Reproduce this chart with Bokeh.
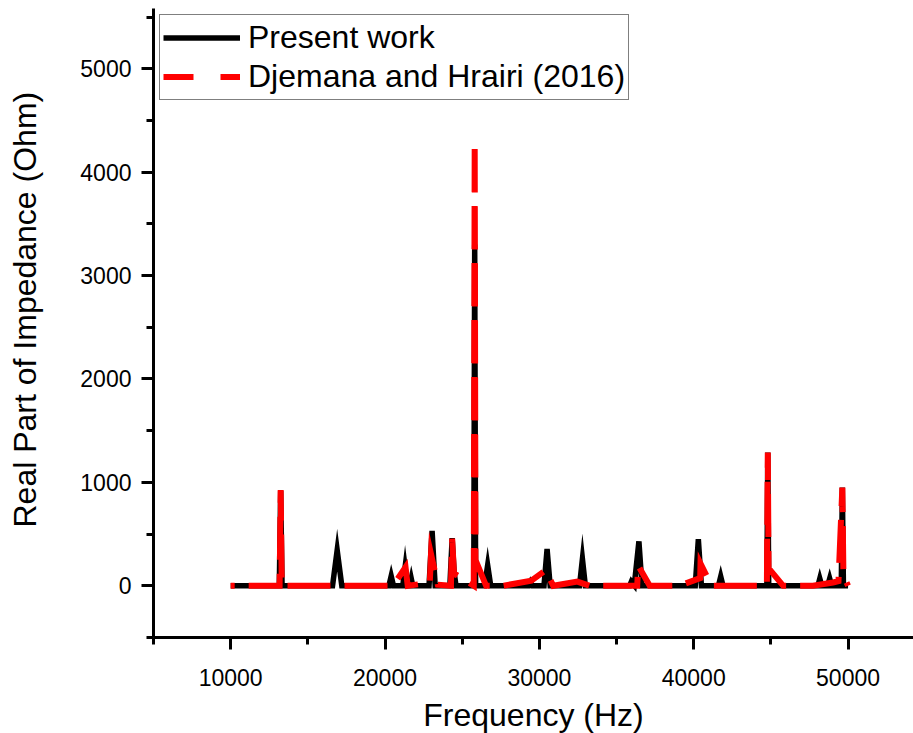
import math
from bokeh.plotting import figure
from bokeh.models import FixedTicker, Legend, LegendItem, Range1d, NumeralTickFormatter
from bokeh.embed import file_html
from bokeh.resources import INLINE

# Present work (Hz, Ohm)
freq_present = [10000, 13150, 13240, 13330, 16600, 16900, 17200, 20250, 20400, 20550,
                21150, 21300, 21450, 21600, 21700, 21800, 22850, 23050, 23250, 24200,
                24350, 24480, 24600, 25750, 25810, 25870, 26450, 26650, 26850, 29300,
                29420, 29550, 30300, 30500, 30700, 32600, 32790, 32980, 35850, 35960,
                36150, 36450, 36650, 40100, 40300, 40500, 41600, 41750, 41900, 44740,
                44800, 44860, 48050, 48170, 48300, 48680, 48810, 48940, 49560, 49630,
                49700, 50000]
z_present = [0, 0, 920, 0, 0, 345, 0, 0, 95, 0,
             0, 180, 0, 0, 70, 0, 0, 530, 0, 0,
             460, 130, 0, 0, 3300, 0, 0, 200, 0, 0,
             35, 0, 0, 355, 0, 0, 260, 0, 0, 40,
             5, 430, 0, 0, 450, 0, 0, 90, 0, 0,
             1290, 0, 0, 70, 0, 0, 70, 0, 0, 950,
             0, 0]

# Djemana and Hrairi (2016)
freq_djemana = [10000, 13170, 13240, 13310, 20520, 21330, 21470, 22900, 22980, 23420,
                24270, 24350, 24470, 25750, 25810, 25860, 26550, 27650, 29480, 30400,
                30900, 32460, 33250, 36340, 36400, 37150, 39080, 40420, 40440, 41150,
                44740, 44800, 44850, 45800, 47730, 49030, 49380, 49630, 49700, 50000]
z_djemana = [0, 0, 925, 0, 0, 180, 0, 30, 306, 10,
             0, 455, 120, 0, 4290, 250, 0, 0, 50, 150,
             0, 40, 0, 0, 195, 0, 0, 75, 215, 0,
             0, 1290, 170, 0, 0, 32, 45, 950, 100, 0]

x_major = [10000, 20000, 30000, 40000, 50000]
x_minor = [5000, 15000, 25000, 35000, 45000]
y_major = [0, 1000, 2000, 3000, 4000, 5000]
y_minor = [-500, 500, 1500, 2500, 3500, 4500, 5500]

x_title = "Frequency (Hz)"
y_title = "Real Part of Impedance (Ohm)"
labels = ["Present work", "Djemana and Hrairi (2016)"]

FONT = "Liberation Sans"
FRAME_W, FRAME_H = 760, 629
X0, X1 = 5000, 54240
Y0, Y1 = -500, 5583
DASH_ON, DASH_OFF = 43, 14
RED = "#ff0000"

p = figure(frame_width=FRAME_W, frame_height=FRAME_H,
           x_range=Range1d(X0, X1), y_range=Range1d(Y0, Y1),
           output_backend="svg", toolbar_location=None,
           min_border_left=153, min_border_right=0, min_border_top=8, min_border_bottom=96,
           background_fill_color="white", border_fill_color="white")
p.outline_line_color = None
p.xgrid.visible = False
p.ygrid.visible = False

# dash phase: put the tallest red peak's apex in the middle of a gap (as in the original)
sx = FRAME_W / (X1 - X0)
sy = FRAME_H / (Y1 - Y0)
apex = z_djemana.index(max(z_djemana))
L = 0.0
for i in range(apex):
    L += math.hypot((freq_djemana[i + 1] - freq_djemana[i]) * sx,
                    (z_djemana[i + 1] - z_djemana[i]) * sy)
period = DASH_ON + DASH_OFF
dash_offset = int(round((DASH_ON + DASH_OFF / 2 - L) % period))

black = p.line(freq_present, z_present, line_color="black", line_width=5.5, line_join="miter")
red = p.line(freq_djemana, z_djemana, line_color=RED, line_width=6,
             line_dash=f"{DASH_ON} {DASH_OFF}", line_dash_offset=dash_offset, line_join="miter")
# hidden copy used only for the legend sample (dash phase as in the original key)
red_key = p.line(freq_djemana, z_djemana, line_color=RED, line_width=6, line_dash="30 27")
red_key.visible = False

p.xaxis.ticker = FixedTicker(ticks=x_major, minor_ticks=x_minor)
p.yaxis.ticker = FixedTicker(ticks=y_major, minor_ticks=y_minor)
p.xaxis.formatter = NumeralTickFormatter(format="0")
p.yaxis.formatter = NumeralTickFormatter(format="0")

for ax in (p.xaxis[0], p.yaxis[0]):
    ax.axis_line_width = 3
    ax.axis_line_color = "black"
    ax.major_tick_line_width = 3
    ax.minor_tick_line_width = 3
    ax.major_tick_line_color = "black"
    ax.minor_tick_line_color = "black"
    ax.major_tick_in = 0
    ax.major_tick_out = 12
    ax.minor_tick_in = 0
    ax.minor_tick_out = 7
    ax.major_label_text_font = FONT
    ax.major_label_text_font_size = "23px"
    ax.major_label_text_color = "black"
    ax.axis_label_text_font = FONT
    ax.axis_label_text_font_size = "32px"
    ax.axis_label_text_font_style = "normal"
    ax.axis_label_text_color = "black"

p.xaxis.axis_label = x_title
p.yaxis.axis_label = "\u00a0\u00a0\u00a0" + y_title
p.xaxis.major_label_standoff = 19
p.xaxis.axis_label_standoff = 8
p.yaxis.major_label_standoff = 10
p.yaxis.axis_label_standoff = 34

legend = Legend(items=[LegendItem(label=labels[0], renderers=[black]),
                       LegendItem(label=labels[1], renderers=[red_key])],
                location="top_left")
legend.margin = 6
legend.padding = 3
legend.spacing = 0
legend.glyph_width = 77
legend.glyph_height = 39
legend.label_height = 39
legend.label_standoff = 8
legend.label_text_font = FONT
legend.label_text_font_size = "32px"
legend.label_text_color = "black"
legend.border_line_color = "black"
legend.border_line_width = 1
legend.background_fill_color = "white"
legend.background_fill_alpha = 1
legend.inactive_fill_alpha = 0
p.add_layout(legend)

open("out.html", "w").write(file_html(p, INLINE))
